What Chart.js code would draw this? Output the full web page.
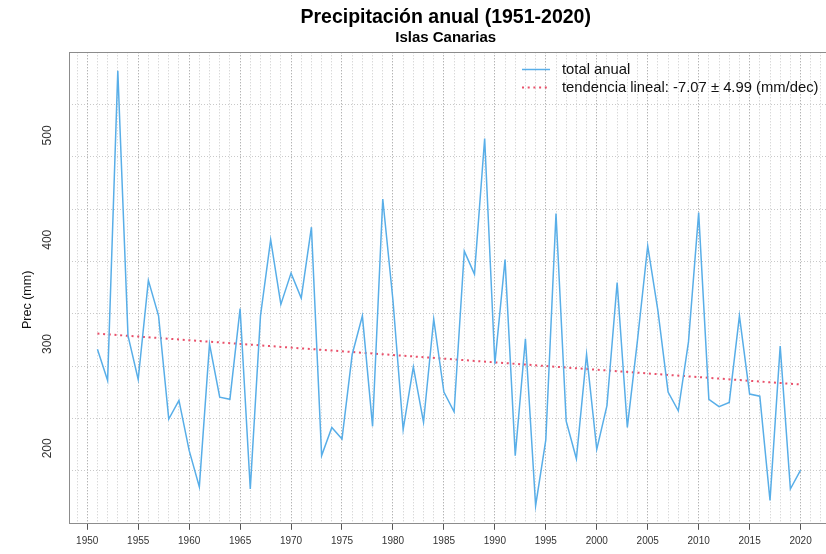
<!DOCTYPE html>
<html>
<head>
<meta charset="utf-8">
<script src="https://cdn.jsdelivr.net/npm/chart.js@4.4.1/dist/chart.umd.min.js"></script>
<style>
  html, body { margin: 0; padding: 0; background: #fff; overflow: hidden; width: 826px; height: 554px; }
  #wrap { width: 836px; height: 554px; }
  canvas { display: block; }
</style>
</head>
<body>
<div id="wrap"><canvas id="chart" width="836" height="554"></canvas></div>
<script>
// Annual precipitation, Canary Islands
const years = [
  1951, 1952, 1953, 1954, 1955, 1956, 1957, 1958, 1959, 1960,
  1961, 1962, 1963, 1964, 1965, 1966, 1967, 1968, 1969, 1970,
  1971, 1972, 1973, 1974, 1975, 1976, 1977, 1978, 1979, 1980,
  1981, 1982, 1983, 1984, 1985, 1986, 1987, 1988, 1989, 1990,
  1991, 1992, 1993, 1994, 1995, 1996, 1997, 1998, 1999, 2000,
  2001, 2002, 2003, 2004, 2005, 2006, 2007, 2008, 2009, 2010,
  2011, 2012, 2013, 2014, 2015, 2016, 2017, 2018, 2019, 2020
];
const precip = [
  295, 265, 562, 308, 266, 361, 327, 228, 246, 198,
  163, 300, 249, 247, 334, 161, 327, 400, 338, 368,
  344, 412, 193, 220, 209, 290, 327, 221, 439, 342,
  218, 278, 225, 324, 254, 235, 389, 367, 497, 281,
  381, 193, 305, 145, 208, 425, 226, 190, 290, 199,
  241, 359, 220, 304, 394, 332, 254, 236, 302, 426,
  247, 240, 244, 327, 252, 250, 150, 298, 161, 179
];
// Linear trend, end points
const trendYears = [1951, 2020];
const trendValues = [310.0, 261.2];

const xTickLabels = ['1950', '1955', '1960', '1965', '1970', '1975', '1980', '1985',
                     '1990', '1995', '2000', '2005', '2010', '2015', '2020'];
const yTickLabels = ['200', '300', '400', '500'];
const seriesNames = ['total anual', 'tendencia lineal: -7.07 \u00b1 4.99 (mm/dec)'];
const titleText = 'Precipitaci\u00f3n anual (1951-2020)';
const subtitleText = 'Islas Canarias';
const yAxisTitle = 'Prec (mm)';

const FONT = '"Liberation Sans", Arial, Helvetica, sans-serif';
const LINE_BLUE = '#58aee8';
const TREND_RED = '#e9506a';
const GRID_MINOR = '#c9c9c9';
const GRID_MAJOR = '#959595';

// Plot frame (box round the plotting region)
const framePlugin = {
  id: 'frame',
  afterDraw(chart) {
    const { ctx, chartArea: a } = chart;
    ctx.save();
    ctx.strokeStyle = '#8c8c8c';
    ctx.lineWidth = 1;
    ctx.strokeRect(Math.round(a.left) + 0.5, Math.round(a.top) + 0.5,
                   Math.round(a.right - a.left), Math.round(a.bottom - a.top));
    ctx.restore();
  }
};

// Vertical y tick labels and axis title
const yLabelsPlugin = {
  id: 'yLabels',
  afterDraw(chart) {
    const { ctx, chartArea: a } = chart;
    const ys = chart.scales.y;
    ctx.save();
    ctx.fillStyle = '#333';
    ctx.textAlign = 'center';
    ctx.textBaseline = 'middle';
    ctx.font = '12px ' + FONT;
    yTickLabels.forEach(lbl => {
      const py = ys.getPixelForValue(Number(lbl));
      ctx.save();
      ctx.translate(48, py);
      ctx.rotate(-Math.PI / 2);
      ctx.fillText(lbl, 0, 0);
      ctx.restore();
    });
    ctx.fillStyle = '#111';
    ctx.font = '12.5px ' + FONT;
    ctx.translate(28, (a.top + a.bottom) / 2 + 12);
    ctx.rotate(-Math.PI / 2);
    ctx.fillText(yAxisTitle, 0, 0);
    ctx.restore();
  }
};

// Legend inside the plot, top right, no box
const legendPlugin = {
  id: 'insideLegend',
  afterDatasetsDraw(chart) {
    const { ctx } = chart;
    const x0 = 522, x1 = 550, xt = 562;
    const rows = [69.5, 87.5];
    ctx.save();
    ctx.lineWidth = 1.5;
    ctx.strokeStyle = LINE_BLUE;
    ctx.beginPath();
    ctx.moveTo(x0, rows[0]);
    ctx.lineTo(x1, rows[0]);
    ctx.stroke();
    ctx.lineWidth = 2;
    ctx.strokeStyle = TREND_RED;
    ctx.setLineDash([2, 3.7]);
    ctx.beginPath();
    ctx.moveTo(x0, rows[1]);
    ctx.lineTo(x1, rows[1]);
    ctx.stroke();
    ctx.setLineDash([]);
    ctx.fillStyle = '#111';
    ctx.font = '14.8px ' + FONT;
    ctx.textAlign = 'left';
    ctx.textBaseline = 'middle';
    seriesNames.forEach((s, i) => ctx.fillText(s, xt, rows[i]));
    ctx.restore();
  }
};

const series = years.map((yr, i) => ({ x: yr, y: precip[i] }));
const trend = trendYears.map((yr, i) => ({ x: yr, y: trendValues[i] }));

new Chart(document.getElementById('chart'), {
  type: 'line',
  data: {
    datasets: [
      {
        label: seriesNames[0],
        data: series,
        borderColor: LINE_BLUE,
        borderWidth: 1.5,
        pointRadius: 0,
        tension: 0,
        fill: false
      },
      {
        label: seriesNames[1],
        data: trend,
        borderColor: TREND_RED,
        borderWidth: 2,
        borderDash: [2, 3.7],
        pointRadius: 0,
        fill: false
      }
    ]
  },
  options: {
    responsive: false,
    animation: false,
    devicePixelRatio: 1,
    layout: { padding: { left: 62.7, right: 7.3, top: 0, bottom: 0 } },
    plugins: {
      legend: { display: false },
      tooltip: { enabled: false },
      title: {
        display: true,
        text: titleText,
        color: '#000',
        font: { family: FONT, size: 19.5, weight: 'bold', lineHeight: 1.2 },
        padding: { top: 5.5, bottom: 0 }
      },
      subtitle: {
        display: true,
        text: subtitleText,
        color: '#000',
        font: { family: FONT, size: 15, weight: 'bold', lineHeight: 1.2 },
        padding: { top: 0, bottom: 5.4 }
      }
    },
    scales: {
      x: {
        type: 'linear',
        min: 1948.24,
        max: 2022.76,
        afterFit(scale) { scale.height = 30.7; },
        border: { display: false, dash: [1, 2] },
        grid: {
          color: ctx => (ctx.tick && ctx.tick.value % 5 === 0) ? GRID_MAJOR : GRID_MINOR,
          lineWidth: 1,
          drawTicks: true,
          tickLength: 6.5,
          tickColor: ctx => (ctx.tick && xTickLabels.includes(String(ctx.tick.value))) ? '#555' : 'rgba(0,0,0,0)',
          tickBorderDash: [],
          tickWidth: 1
        },
        ticks: {
          stepSize: 1,
          includeBounds: false,
          autoSkip: false,
          maxRotation: 0,
          minRotation: 0,
          padding: 5,
          color: '#333',
          font: { family: FONT, size: 10 },
          callback: v => xTickLabels.includes(String(v)) ? String(v) : ''
        }
      },
      y: {
        type: 'linear',
        min: 128.1,
        max: 579.7,
        afterFit(scale) { scale.width = 6.6; },
        border: { display: false, dash: [1, 2] },
        grid: {
          color: GRID_MINOR,
          lineWidth: 1,
          drawTicks: true,
          tickLength: 6.6,
          tickColor: ctx => (ctx.tick && yTickLabels.includes(String(ctx.tick.value))) ? '#555' : 'rgba(0,0,0,0)',
          tickBorderDash: [],
          tickWidth: 1
        },
        ticks: {
          stepSize: 50,
          includeBounds: false,
          display: false
        }
      }
    }
  },
  plugins: [framePlugin, yLabelsPlugin, legendPlugin]
});
</script>
</body>
</html>
